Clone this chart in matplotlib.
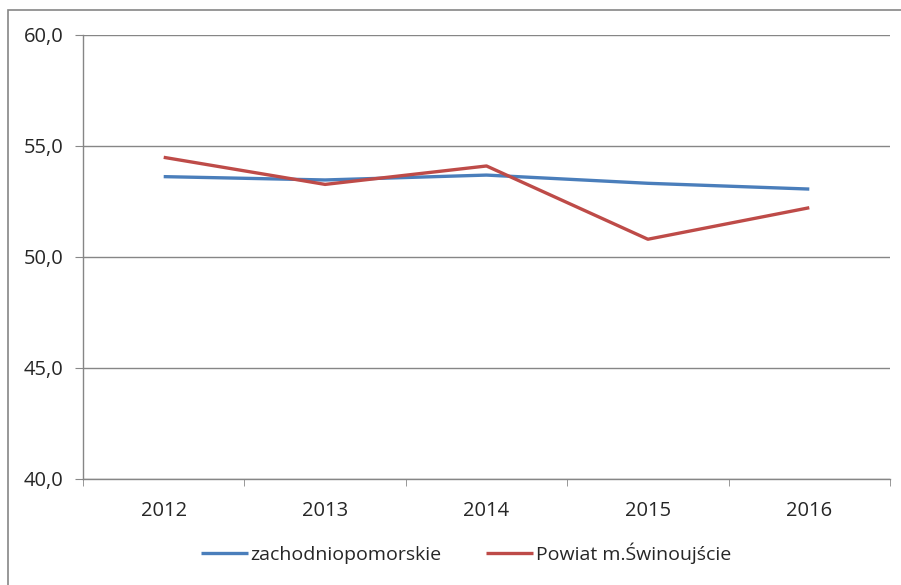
import matplotlib.pyplot as plt
from matplotlib.patches import Rectangle

years = ['2012', '2013', '2014', '2015', '2016']
zachodniopomorskie = [53.62, 53.47, 53.69, 53.32, 53.06]
swinoujscie = [54.49, 53.27, 54.10, 50.80, 52.22]

plt.rcParams['font.family'] = ['Open Sans', 'DejaVu Sans']

W, H = 901, 585
fig = plt.figure(figsize=(W / 100, H / 100), dpi=100)
ax = fig.add_axes([83 / W, 1 - 479 / H, (890 - 83) / W, (479 - 35) / H])

x = range(len(years))
ax.plot(x, zachodniopomorskie, color='#4A7EBB', lw=2.4, label='zachodniopomorskie',
        solid_capstyle='butt')
ax.plot(x, swinoujscie, color='#BE4B48', lw=2.4, label='Powiat m.Świnoujście',
        solid_capstyle='butt')

ax.set_xlim(-0.5, len(years) - 0.5)
ax.set_ylim(40, 60)
ax.set_yticks([40, 45, 50, 55, 60])
ax.set_yticklabels([f'{v:.1f}'.replace('.', ',') for v in [40, 45, 50, 55, 60]])
ax.set_xticks(list(x))
ax.set_xticklabels(years)
ax.set_xticks([i + 0.5 for i in range(-1, len(years))], minor=True)
ax.tick_params(axis='x', which='major', length=0, pad=16)
ax.tick_params(axis='x', which='minor', length=5, color='#888888')
ax.tick_params(axis='y', length=6, color='#888888', pad=8)
ax.tick_params(labelsize=14.5, labelcolor='#262626')

ax.grid(axis='y', color='#868686', lw=1)
ax.set_axisbelow(True)
for s in ['top', 'right']:
    ax.spines[s].set_visible(False)
for s in ['left', 'bottom']:
    ax.spines[s].set_color('#868686')
    ax.spines[s].set_linewidth(1)

fig.legend(loc='center', bbox_to_anchor=(466 / W, 1 - 553 / H), ncol=2, frameon=False,
           fontsize=14, handlelength=2.4, handletextpad=0.15, columnspacing=2.3,
           labelcolor='#262626')

fig.patches.append(Rectangle((8 / W, -0.1), 1.2, 1 - 10 / H + 0.1,
                             transform=fig.transFigure, fill=False,
                             edgecolor='#868686', lw=1.2))

fig.savefig('out.png', dpi=100)
